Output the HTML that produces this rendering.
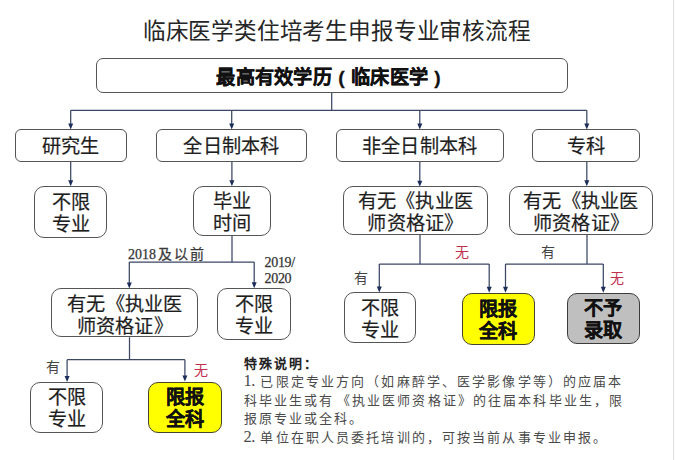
<!DOCTYPE html>
<html lang="zh-CN">
<head>
<meta charset="utf-8">
<style>
html,body{margin:0;padding:0;background:#fff;}
body{width:675px;height:460px;position:relative;overflow:hidden;font-family:"Liberation Sans",sans-serif;color:#222;}
.vline{position:absolute;left:673px;top:0;width:1px;height:460px;background:#dcdcdc;}
.title{position:absolute;left:-0.8px;top:15.3px;width:675px;text-align:center;font-size:22.6px;letter-spacing:-0.18px;line-height:34px;color:#262626;}
.b{position:absolute;box-sizing:border-box;border:1.5px solid #555;border-radius:7px;display:flex;align-items:center;justify-content:center;text-align:center;background:#fff;font-size:19.2px;letter-spacing:0.25px;line-height:22px;color:#1e1e1e;padding-top:2.4px;-webkit-text-stroke:0.2px #1e1e1e;}
.bold{font-weight:bold;color:#111;-webkit-text-stroke:0.3px #111;}
.t2{padding-top:3.6px;line-height:22px;}
.t3{padding-top:5.6px;}
.pa{display:inline-block;width:19.2px;text-align:center;font-family:"Liberation Sans";}
.y{background:#ffff00;border-color:#46442e;border-width:1.7px;}
.g{background:#bfbfbf;border-color:#3c3c3c;border-width:1.7px;}
svg{position:absolute;left:0;top:0;}
.lab{position:absolute;font-family:"Liberation Serif",serif;font-size:14px;line-height:16px;color:#444;white-space:nowrap;}
.red{color:#c0304a;}
.note{position:absolute;left:243.5px;top:354.9px;font-family:"Liberation Serif",serif;font-size:13px;line-height:18.4px;letter-spacing:2.13px;color:#4a4a4a;white-space:nowrap;}
.note b{font-weight:bold;color:#222;}
.num{font-size:16.5px;letter-spacing:-0.5px;margin-right:5.5px;line-height:10px;}
</style>
</head>
<body>
<div class="vline"></div>
<div class="title">临床医学类住培考生申报专业审核流程</div>

<svg width="675" height="460" viewBox="0 0 675 460">
<g stroke="#3c4766" stroke-width="1.25" fill="none">
<!-- top -->
<path d="M331.7 92.5 V110.3 M70.7 110.3 H586.8"/>
<path d="M70.7 110.3 V124 M231.7 110.3 V124 M419.8 110.3 V124 M586.8 110.3 V124"/>
<!-- row2 to row3 -->
<path d="M70.7 161.3 V181 M231.9 161.3 V181 M419.8 161.3 V181 M586.8 161.3 V181"/>
<!-- 毕业时间 -->
<path d="M232 236 V262 M129.3 262 H254.2 M129.3 262 V283 M254.2 262 V283"/>
<!-- 有无A -->
<path d="M420 235 V264.1 M379.3 264.1 H489.2 M379.3 264.1 V287 M489.2 264.1 V287"/>
<!-- 有无B -->
<path d="M587 234.7 V264.1 M505.5 264.1 H603.3 M505.5 264.1 V287 M603.3 264.1 V287"/>
<!-- 有无C -->
<path d="M129.5 337.3 V359.7 M67.1 359.7 H184.9 M67.1 359.7 V376 M184.9 359.7 V376"/>
</g>
<g fill="#1c2d5a">
<path d="M68.2 123.5 L73.2 123.5 L70.7 129.5 Z"/>
<path d="M229.2 123.5 L234.2 123.5 L231.7 129.5 Z"/>
<path d="M417.3 123.5 L422.3 123.5 L419.8 129.5 Z"/>
<path d="M584.3 123.5 L589.3 123.5 L586.8 129.5 Z"/>

<path d="M68.2 180.3 L73.2 180.3 L70.7 186.3 Z"/>
<path d="M229.4 180.3 L234.4 180.3 L231.9 186.3 Z"/>
<path d="M417.3 180.8 L422.3 180.8 L419.8 186.8 Z"/>
<path d="M584.3 180.3 L589.3 180.3 L586.8 186.3 Z"/>

<path d="M126.8 282.6 L131.8 282.6 L129.3 288.6 Z"/>
<path d="M251.7 282.2 L256.7 282.2 L254.2 288.2 Z"/>

<path d="M376.8 286.5 L381.8 286.5 L379.3 292.5 Z"/>
<path d="M486.7 286.8 L491.7 286.8 L489.2 292.8 Z"/>
<path d="M503 286.8 L508 286.8 L505.5 292.8 Z"/>
<path d="M600.8 286.8 L605.8 286.8 L603.3 292.8 Z"/>

<path d="M64.6 375.9 L69.6 375.9 L67.1 381.9 Z"/>
<path d="M182.4 375.6 L187.4 375.6 L184.9 381.6 Z"/>
</g>
</svg>

<!-- top box -->
<div class="b bold" style="left:96px;top:58.25px;width:471.7px;height:34.5px;font-size:19.2px;padding-top:4.2px;">最高有效学历<span class="pa">(</span>临床医学<span class="pa">)</span></div>

<!-- row 2 -->
<div class="b" style="left:14.6px;top:128.65px;width:112.4px;height:33.4px;border-radius:6px;">研究生</div>
<div class="b" style="left:155.85px;top:128.65px;width:151.5px;height:33.4px;border-radius:6px;">全日制本科</div>
<div class="b" style="left:335.65px;top:128.65px;width:168px;height:33.4px;border-radius:6px;">非全日制本科</div>
<div class="b" style="left:532.35px;top:128.65px;width:108px;height:33.4px;border-radius:6px;">专科</div>

<!-- row 3 -->
<div class="b t2" style="left:34.4px;top:186px;width:72.8px;height:51.6px;border-radius:10px;">不限<br>专业</div>
<div class="b t2" style="left:192.6px;top:186px;width:78.9px;height:50px;border-radius:10px;">毕业<br>时间</div>
<div class="b t2 t3" style="left:343.2px;top:185.7px;width:144.6px;height:49.7px;border-radius:10px;">有无《执业医<br>师资格证》</div>
<div class="b t2 t3" style="left:509.2px;top:185.7px;width:143.6px;height:49.7px;border-radius:10px;">有无《执业医<br>师资格证》</div>

<!-- row 4 -->
<div class="b t2 t3" style="left:51.1px;top:288px;width:147.4px;height:49.2px;border-radius:10px;padding-top:7.4px;">有无《执业医<br>师资格证》</div>
<div class="b t2" style="left:217px;top:288px;width:74px;height:52px;border-radius:10px;">不限<br>专业</div>
<div class="b t2" style="left:343.5px;top:292.4px;width:72.5px;height:51px;border-radius:10px;">不限<br>专业</div>
<div class="b t2 y bold" style="left:462px;top:293px;width:72.6px;height:51.7px;border-radius:10px;">限报<br>全科</div>
<div class="b t2 g bold" style="left:566.7px;top:293px;width:73.1px;height:50.8px;border-radius:10px;">不予<br>录取</div>

<!-- row 5 -->
<div class="b t2" style="left:30.3px;top:382px;width:73.1px;height:51.2px;border-radius:10px;">不限<br>专业</div>
<div class="b t2 y bold" style="left:148.4px;top:381.5px;width:73.5px;height:51.7px;border-radius:10px;">限报<br>全科</div>

<!-- labels -->
<div class="lab" style="left:128px;top:247px;color:#333;-webkit-text-stroke:0.25px #333;">2018<span style="margin-left:1.5px;letter-spacing:2px;color:#3a3a3a">及以前</span></div>
<div class="lab" style="left:264.5px;top:255px;line-height:15.5px;color:#333;letter-spacing:-0.3px;-webkit-text-stroke:0.25px #333;">2019/<br>2020</div>
<div class="lab red" style="left:455px;top:245px;">无</div>
<div class="lab" style="left:354px;top:270.5px;">有</div>
<div class="lab" style="left:541px;top:245px;">有</div>
<div class="lab red" style="left:610px;top:270.5px;">无</div>
<div class="lab" style="left:46px;top:360px;">有</div>
<div class="lab red" style="left:194px;top:363px;">无</div>

<div class="note"><b>特殊说明：</b><br><span class="num">1.</span>已限定专业方向（如麻醉学、医学影像学等）的应届本<br>科毕业生或有<span style="margin-left:2.5px">《</span>执业医师资格证》的往届本科毕业生，限<br>报原专业或全科。<br><span class="num">2.</span>单位在职人员委托培训的，可按当前从事专业申报。</div>
</body>
</html>
